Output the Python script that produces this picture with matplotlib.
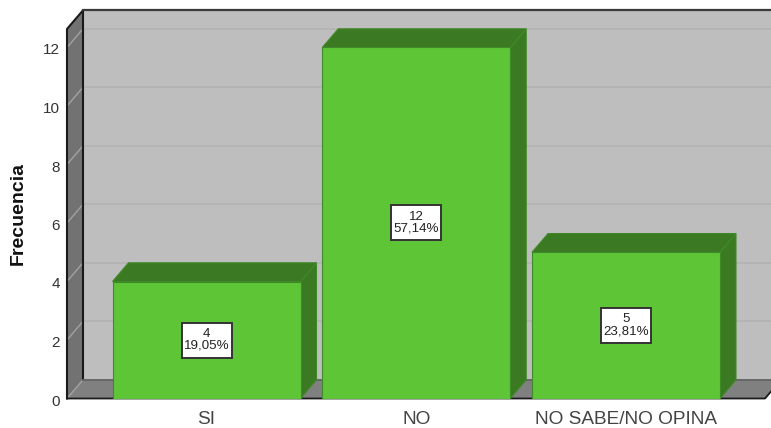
import matplotlib
matplotlib.use('Agg')
import matplotlib.pyplot as plt
from matplotlib.patches import Polygon, Rectangle
from matplotlib.transforms import ScaledTranslation

plt.rcParams['font.family'] = ['Liberation Sans', 'DejaVu Sans']

# datos del grafico
categorias = ['SI', 'NO', 'NO SABE/NO OPINA']
frecuencias = [4, 12, 5]
porcentajes = ['19,05%', '57,14%', '23,81%']
marcas_y = [0, 2, 4, 6, 8, 10, 12]

# colores
verde = '#5ec537'
verde_osc = '#3b7a22'
borde_verde = '#3f8a28'
pared = '#bebebe'
pared_lado = '#727272'
piso = '#808080'

W, H = 771, 428
fig = plt.figure(figsize=(W / 100, H / 100), dpi=100)

# el eje cubre el plano frontal, la profundidad se dibuja sin recorte
left, right, bottom, top = 67, 771, 398.5, 29
ax = fig.add_axes([left / W, 1 - bottom / H, (right - left) / W, (bottom - top) / H])
px_x = 209.75
px_y = 29.25
centro = 206.5
ax.set_xlim((left - centro) / px_x, (right - centro) / px_x)
ax.set_ylim(0, (bottom - top) / px_y)
ax.patch.set_visible(False)

x_min = ax.get_xlim()[0]
x_fin = (765 - centro) / px_x
dx = 16 / px_x
dy = 18.7 / px_y
y_max = ax.get_ylim()[1]
ancho = 188 / px_x


def poly(puntos, color, borde='none', lw=0.0, z=1):
    ax.add_patch(Polygon(puntos, closed=True, facecolor=color, edgecolor=borde,
                         linewidth=lw, zorder=z, clip_on=False))


# paredes y piso
poly([(x_min + dx, dy), (x_fin + dx + 1, dy), (x_fin + dx + 1, y_max + dy), (x_min + dx, y_max + dy)], pared)
poly([(x_min, 0), (x_min + dx, dy), (x_min + dx, y_max + dy), (x_min, y_max)], pared_lado)
poly([(x_min, 0), (x_fin, 0), (x_fin + dx, dy), (x_min + dx, dy)], piso)

# lineas de cuadricula
for v in marcas_y:
    ax.plot([x_min, x_min + dx], [v, v + dy], color='#a2a2a2', lw=1, zorder=2, clip_on=False)
    if v > 0:
        ax.plot([x_min + dx, x_fin + dx + 1], [v + dy, v + dy], color='#b3b3b3', lw=1.2, zorder=2, clip_on=False)

# bordes
ax.plot([x_min, x_min, x_min + dx, x_min + dx], [0, y_max, y_max + dy, dy], color='#1a1a1a', lw=1.5, zorder=3, clip_on=False)
ax.plot([x_min + dx, x_fin + dx + 1], [y_max + dy, y_max + dy], color='#3a3a3a', lw=1.6, zorder=3, clip_on=False)
ax.plot([x_min + dx, x_fin + dx + 1], [dy, dy], color='#666666', lw=1.4, zorder=3, clip_on=False)
ax.plot([x_min, x_fin, x_fin + dx], [0, 0, dy], color='#1a1a1a', lw=1.3, zorder=3, clip_on=False)

# barras
caja_w = 50 / px_x
caja_h = 35 / px_y
for i, v in enumerate(frecuencias):
    x0 = i - ancho / 2
    x1 = i + ancho / 2
    poly([(x1, 0), (x1 + dx, dy), (x1 + dx, v + dy), (x1, v)], verde_osc, borde_verde, 0.8, 4)
    poly([(x0, v), (x1, v), (x1 + dx, v + dy), (x0 + dx, v + dy)], verde_osc, borde_verde, 0.8, 4)
    ax.bar(i, v, width=ancho, color=verde, edgecolor=borde_verde, linewidth=0.8, zorder=5)
    ax.add_patch(Rectangle((i - caja_w / 2, v / 2 - caja_h / 2), caja_w, caja_h, facecolor='white',
                           edgecolor='#333333', linewidth=1.4, zorder=6))
    ax.text(i, v / 2, f'{v}\n{porcentajes[i]}', ha='center', va='center', fontsize=9.6,
            color='#222222', linespacing=0.98, zorder=7)

# ejes y textos
for s in ax.spines.values():
    s.set_visible(False)
ax.set_xticks(range(len(categorias)))
ax.set_xticklabels(categorias, fontsize=13.7, color='#444444')
ax.set_yticks(marcas_y)
ax.tick_params(axis='x', length=0, pad=9)
ax.tick_params(axis='y', length=0, pad=5, labelsize=11, labelcolor='#333333')
# las marcas del eje y quedan un poco por debajo de la linea
baja = ScaledTranslation(0, -1.5 / 100, fig.dpi_scale_trans)
for etiqueta in ax.get_yticklabels():
    etiqueta.set_transform(etiqueta.get_transform() + baja)
fig.text(18.5 / W, 1 - 213.5 / H, 'Frecuencia', rotation=90, ha='center', va='center',
         fontsize=14, fontweight='bold', color='#111111')

fig.savefig('out.png', dpi=100)
